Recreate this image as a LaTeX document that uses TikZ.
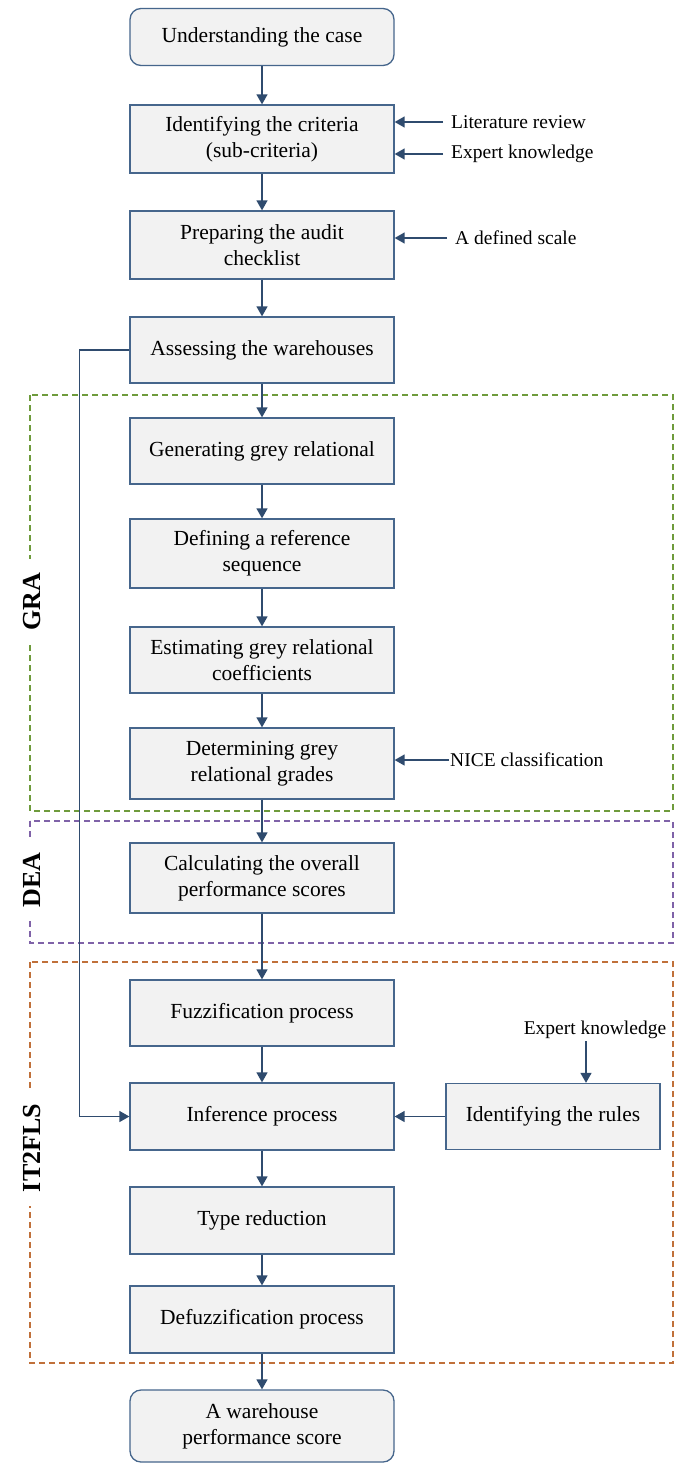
\documentclass[tikz,border=0pt]{standalone}
\usepackage{fontspec}
\setmainfont{Liberation Serif}
\usetikzlibrary{arrows.meta}
\definecolor{boxfill}{HTML}{F2F2F2}
\definecolor{boxline}{HTML}{46668C}
\definecolor{arrcol}{HTML}{2F4B6E}
\definecolor{gracol}{HTML}{6E9B3C}
\definecolor{deacol}{HTML}{7F62A8}
\definecolor{flscol}{HTML}{C0703A}
\begin{document}
\begin{tikzpicture}[x=1pt,y=-1pt,
  proc/.style={draw=boxline, line width=1.3pt, fill=boxfill, minimum width=264pt, minimum height=68pt, align=center, font=\fontsize{21.5}{26}\selectfont, inner sep=2pt},
  term/.style={proc, rounded corners=11pt},
  side/.style={font=\fontsize{19.5}{23}\selectfont, inner xsep=8pt, inner ysep=2pt, anchor=west},
  arr/.style={draw=arrcol, line width=1.4pt, -{Triangle[length=10pt,width=11pt]}},
  zone/.style={dash pattern=on 6pt off 4pt, line width=1.1pt},
  zlabel/.style={rotate=90, fill=white, font=\bfseries\fontsize{26}{30}\selectfont, inner xsep=14pt, inner ysep=1pt}]

\useasboundingbox[fill=white] (0,0) rectangle (675,1467);

% zones
\draw[zone, draw=gracol] (30,395) rectangle (673,811);
\draw[zone, draw=deacol] (30,821) rectangle (673,943);
\draw[zone, draw=flscol] (30,962) rectangle (673,1363);

\node[zlabel] (gra) at (32,602) {GRA};
\node[zlabel] (dea) at (32,880) {DEA};
\node[zlabel] (fls) at (32,1148) {IT2FLS};

% main boxes
\node[term, minimum height=57pt] (b1) at (262,37) {Understanding the case};
\node[proc] (b2) at (262,139) {Identifying the criteria\\(sub-criteria)};
\node[proc] (b3) at (262,245) {Preparing the audit\\checklist};
\node[proc, minimum height=66pt] (b4) at (262,350) {Assessing the warehouses};
\node[proc, minimum height=66pt] (b5) at (262,451) {Generating grey relational};
\node[proc, minimum height=69pt] (b6) at (262,553.5) {Defining a reference\\sequence};
\node[proc, minimum height=66pt] (b7) at (262,660) {Estimating grey relational\\coefficients};
\node[proc, minimum height=71pt] (b8) at (262,763.5) {Determining grey\\relational grades};
\node[proc, minimum height=70pt] (b9) at (262,878) {Calculating the overall\\performance scores};
\node[proc, minimum height=66pt] (b10) at (262,1013) {Fuzzification process};
\node[proc, minimum height=67pt] (b11) at (262,1116.5) {Inference process};
\node[proc, minimum height=67pt] (b12) at (262,1220.5) {Type reduction};
\node[proc, minimum height=67pt] (b13) at (262,1319.5) {Defuzzification process};
\node[term, minimum height=72pt] (b14) at (262,1426) {A warehouse\\performance score};

\node[proc, minimum width=214pt, minimum height=66pt] (rules) at (553,1116.5) {Identifying the rules};

% side inputs
\node[side] (lit) at (443,122) {Literature review};
\node[side] (exp1) at (443,154) {Expert knowledge};
\node[side] (scale) at (447,238) {A defined scale};
\node[side, inner xsep=1pt] (nice) at (449,760) {NICE classification};
\node[side, anchor=center, inner xsep=2pt] (exp2) at (595,1030) {Expert knowledge};

% connectors
\draw[arr] (b1) -- (b2);
\draw[arr] (b2) -- (b3);
\draw[arr] (b3) -- (b4);
\draw[arr] (b4) -- (b5);
\draw[arr] (b5) -- (b6);
\draw[arr] (b6) -- (b7);
\draw[arr] (b7) -- (b8);
\draw[arr] (b8) -- (b9);
\draw[arr] (b9) -- (b10);
\draw[arr] (b10) -- (b11);
\draw[arr] (b11) -- (b12);
\draw[arr] (b12) -- (b13);
\draw[arr] (b13) -- (b14);

\draw[arr] (lit.west) -- (lit.west -| b2.east);
\draw[arr] (exp1.west) -- (exp1.west -| b2.east);
\draw[arr] (scale.west) -- (scale.west -| b3.east);
\draw[arr] (nice.west) -- (nice.west -| b8.east);
\draw[arr] ([xshift=-9pt]exp2.south) -- ([xshift=-9pt]exp2.south |- rules.north);
\draw[arr] (rules.west) -- (b11.east);
\draw[arr] (b4.west) -- ++(-50,0) |- (b11.west);
\end{tikzpicture}
\end{document}
